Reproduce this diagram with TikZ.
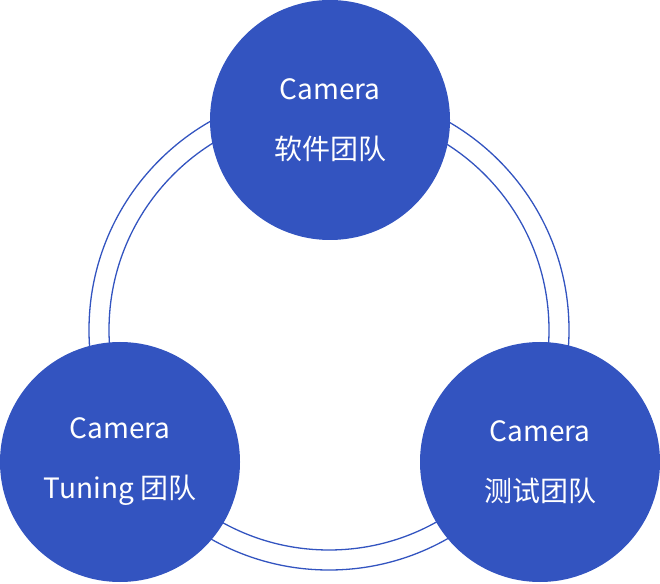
\documentclass[tikz,border=0pt]{standalone}
\usepackage{fontspec}
\setmainfont{Noto Sans CJK SC}
\definecolor{teamblue}{HTML}{3354C0}
\begin{document}
\begin{tikzpicture}[x=1pt,y=1pt,
    team/.style={circle,fill=teamblue,minimum size=240pt,inner sep=0pt,
      text=white,font=\fontsize{28}{60}\selectfont,align=center}]
  \useasboundingbox (0,0) rectangle (660,583);
  % ring
  \draw[teamblue,line width=1.3pt] (329,253) circle (240);
  \draw[teamblue,line width=1.3pt] (329,253) circle (220);
  % teams
  \node[team] (sw) at (330,463) {Camera\\软件团队};
  \node[team] (tune) at (120,121) {Camera\\Tuning 团队};
  \node[team] (test) at (540,121) {Camera\\测试团队};
\end{tikzpicture}
\end{document}
